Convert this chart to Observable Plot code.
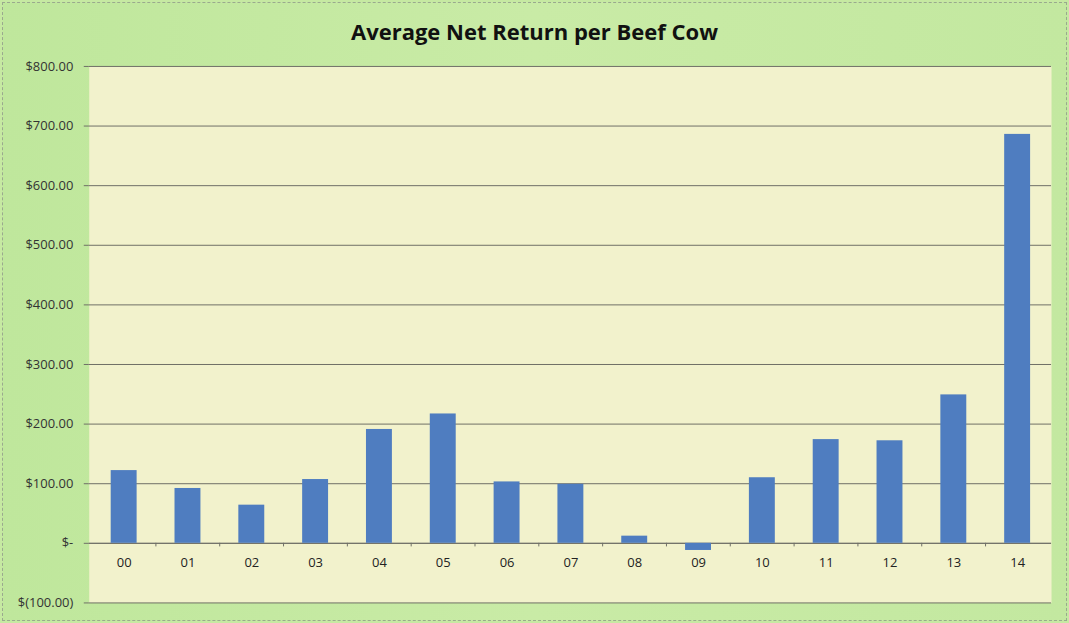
<!DOCTYPE html>
<html>
<head>
<meta charset="utf-8">
<script src="https://cdn.jsdelivr.net/npm/d3@7"></script>
<script src="https://cdn.jsdelivr.net/npm/@observablehq/plot@0.6"></script>
<style>
  html, body { margin: 0; padding: 0; background: #c6e9a2; }
  #wrap { width: 1065px; height: 619px; margin: 2px; border: 1px dashed #9aa98e; box-sizing: border-box;
          background: linear-gradient(90deg, #bfe79c 0%, #c9eba6 50%, #c3e8a0 100%); position: relative; }
  #title { position: absolute; left: -3px; top: 13px; width: 1069px; text-align: center;
           font-family: "Open Sans", sans-serif; font-weight: 700; font-size: 22px; color: #111; }
  #chart { position: absolute; left: -3px; top: 42px; }
</style>
</head>
<body>
<div id="wrap">
  <div id="title">Average Net Return per Beef Cow</div>
  <div id="chart"></div>
</div>
<script>
const years = ["00","01","02","03","04","05","06","07","08","09","10","11","12","13","14"];
const netReturn = [122, 92, 64, 107, 191, 217, 103, 99, 12, -12, 110, 174, 172, 249, 686];
const yTicks = [-100, 0, 100, 200, 300, 400, 500, 600, 700, 800];

const data = years.map((y, i) => ({year: y, value: netReturn[i]}));
const fmt = v => v === 0 ? "$-" : v < 0 ? `$(${Math.abs(v).toFixed(2)})` : `$${v.toFixed(2)}`;

const W = 1069, H = 578, mL = 89, mR = 15, mT = 21, mB = 19;
const step = (W - mL - mR) / years.length;

const chart = Plot.plot({
  width: W,
  height: H,
  marginLeft: mL,
  marginRight: mR,
  marginTop: mT,
  marginBottom: mB,
  style: {background: "transparent", fontFamily: "Open Sans, sans-serif", fontSize: "13px", color: "#333"},
  x: {domain: years, paddingInner: 0.6, paddingOuter: 0.3, axis: null},
  y: {domain: [-100, 800], ticks: yTicks, tickFormat: fmt, label: null},
  marks: [
    Plot.frame({fill: "#f2f2cc", stroke: null}),
    Plot.gridY(yTicks, {stroke: "#6f6f66", strokeOpacity: 1, strokeWidth: 1}),
    Plot.axisY(yTicks, {tickSize: 5, tickPadding: 11, tickFormat: fmt, stroke: "#6f6f66", fill: "#333", fontSize: 13, label: null}),
    Plot.ruleX([0], {stroke: "#8a8a80"}),
    Plot.ruleY([0], {stroke: "#6f6f66"}),
    Plot.barY(data, {x: "year", y: "value", fill: "#4f7dc0"}),
    Plot.ruleX(years.slice(1), {x: d => d, y1: 0, y2: -6, dx: -step / 2, stroke: "#6f6f66"}),
    Plot.text(data, {x: "year", y: 0, dy: 20, text: "year", fill: "#222", fontSize: 13})
  ]
});
document.getElementById("chart").appendChild(chart);
</script>
</body>
</html>
